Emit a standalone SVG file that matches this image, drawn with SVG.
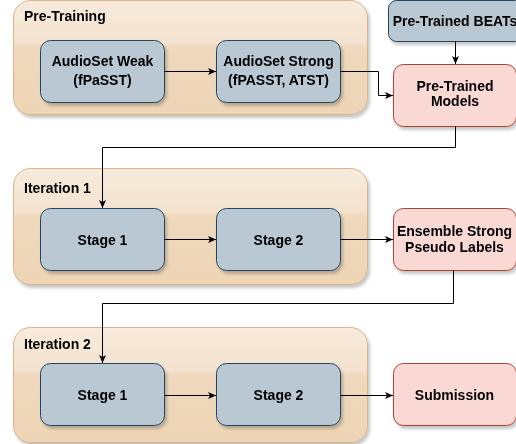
<svg xmlns="http://www.w3.org/2000/svg" width="516" height="444" viewBox="0 0 516 444">
  <defs>
    <style>
      .container { stroke: #d9b48c; stroke-width: 1; fill: url(#glass); }
      .blue { fill: #bac8d3; stroke: #23445d; stroke-width: 1; }
      .red { fill: #fad9d5; stroke: #ae4132; stroke-width: 1; }
      .lbl { font-family: "Liberation Sans", Arial, Helvetica, sans-serif; font-size: 14px; font-weight: bold; fill: #000; }
      .mid { text-anchor: middle; }
      .edge { fill: none; stroke: #000; stroke-width: 1; }
    </style>
    <linearGradient id="glass" x1="0" y1="0" x2="0" y2="1">
      <stop offset="0" stop-color="#f8ebdc"/>
      <stop offset="0.38" stop-color="#f3e2ce"/>
      <stop offset="0.41" stop-color="#efd8bc"/>
      <stop offset="1" stop-color="#eed5b6"/>
    </linearGradient>
    <filter id="shadow" x="-10%" y="-10%" width="130%" height="140%">
      <feDropShadow dx="2" dy="3" stdDeviation="1.5" flood-color="#000" flood-opacity="0.22"/>
    </filter>
    <marker id="arrow" markerUnits="userSpaceOnUse" markerWidth="10" markerHeight="10" refX="8" refY="3.5" orient="auto">
      <path d="M0,0 L8,3.5 L0,7 L2,3.5 z" fill="#000"/>
    </marker>
  </defs>

  <g id="pre-training" filter="url(#shadow)">
    <rect class="container" x="13.5" y="0.5" width="354" height="114" rx="17" ry="17"/>
    <text class="lbl" x="24" y="21">Pre-Training</text>
  </g>
  <g id="iteration-1" filter="url(#shadow)">
    <rect class="container" x="13.5" y="168.5" width="354" height="116" rx="17" ry="17"/>
    <text class="lbl" x="24" y="193">Iteration 1</text>
  </g>
  <g id="iteration-2" filter="url(#shadow)">
    <rect class="container" x="13.5" y="327.5" width="354" height="115" rx="17" ry="17"/>
    <text class="lbl" x="24" y="349">Iteration 2</text>
  </g>

  <g id="audioset-weak" filter="url(#shadow)">
    <rect class="blue" x="40.5" y="40.5" width="124" height="62" rx="10" ry="10"/>
    <text class="lbl mid" x="102.5" y="66">AudioSet Weak</text>
    <text class="lbl mid" x="102.5" y="85">(fPaSST)</text>
  </g>
  <g id="audioset-strong" filter="url(#shadow)">
    <rect class="blue" x="216.5" y="40.5" width="124" height="62" rx="10" ry="10"/>
    <text class="lbl mid" x="278.5" y="66">AudioSet Strong</text>
    <text class="lbl mid" x="278.5" y="85">(fPASST, ATST)</text>
  </g>
  <g id="pretrained-beats" filter="url(#shadow)">
    <rect class="blue" x="388.5" y="0.5" width="134" height="41" rx="8" ry="8"/>
    <text class="lbl mid" x="455" y="26">Pre-Trained BEATs</text>
  </g>
  <g id="pretrained-models" filter="url(#shadow)">
    <rect class="red" x="393.5" y="64.5" width="123" height="62" rx="10" ry="10"/>
    <text class="lbl mid" x="455" y="91">Pre-Trained</text>
    <text class="lbl mid" x="455" y="106">Models</text>
  </g>

  <g id="it1-stage1" filter="url(#shadow)">
    <rect class="blue" x="40.5" y="208.5" width="124" height="62" rx="10" ry="10"/>
    <text class="lbl mid" x="102.5" y="244.5">Stage 1</text>
  </g>
  <g id="it1-stage2" filter="url(#shadow)">
    <rect class="blue" x="216.5" y="208.5" width="124" height="62" rx="10" ry="10"/>
    <text class="lbl mid" x="278.5" y="244.5">Stage 2</text>
  </g>
  <g id="ensemble" filter="url(#shadow)">
    <rect class="red" x="393.5" y="208.5" width="123" height="62" rx="10" ry="10"/>
    <text class="lbl mid" x="454.5" y="236">Ensemble Strong</text>
    <text class="lbl mid" x="454.5" y="252">Pseudo Labels</text>
  </g>

  <g id="it2-stage1" filter="url(#shadow)">
    <rect class="blue" x="40.5" y="363.5" width="124" height="62" rx="10" ry="10"/>
    <text class="lbl mid" x="102.5" y="399.5">Stage 1</text>
  </g>
  <g id="it2-stage2" filter="url(#shadow)">
    <rect class="blue" x="216.5" y="363.5" width="124" height="62" rx="10" ry="10"/>
    <text class="lbl mid" x="278.5" y="399.5">Stage 2</text>
  </g>
  <g id="submission" filter="url(#shadow)">
    <rect class="red" x="393.5" y="363.5" width="123" height="62" rx="10" ry="10"/>
    <text class="lbl mid" x="454.5" y="399.5">Submission</text>
  </g>

  <g id="connectors">
    <path class="edge" d="M164.5,71.5 H216" marker-end="url(#arrow)"/>
    <path class="edge" d="M340.5,71.5 H378.5 V95.5 H393" marker-end="url(#arrow)"/>
    <path class="edge" d="M455.5,41.5 V64" marker-end="url(#arrow)"/>
    <path class="edge" d="M455.5,126.5 V147.5 H102.5 V208" marker-end="url(#arrow)"/>
    <path class="edge" d="M164.5,239.5 H216" marker-end="url(#arrow)"/>
    <path class="edge" d="M340.5,239.5 H393" marker-end="url(#arrow)"/>
    <path class="edge" d="M453.5,270.5 V303.5 H102.5 V363" marker-end="url(#arrow)"/>
    <path class="edge" d="M164.5,395.5 H216" marker-end="url(#arrow)"/>
    <path class="edge" d="M340.5,395.5 H393" marker-end="url(#arrow)"/>
  </g>
</svg>
